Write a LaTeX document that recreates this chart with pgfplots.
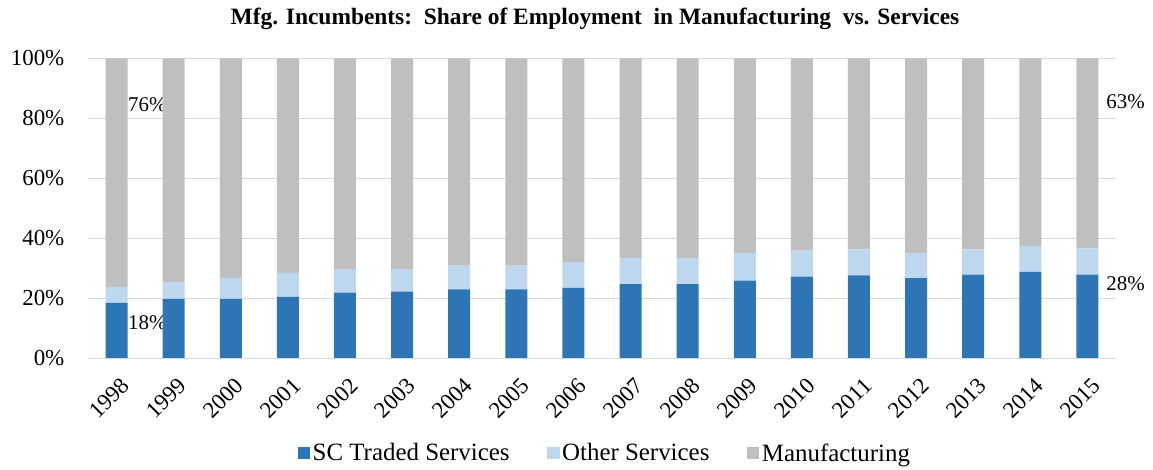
\documentclass[border=0pt]{standalone}
\usepackage{pgfplots}
\pgfplotsset{compat=1.18}
\usepackage{fontspec}
\setmainfont{Liberation Serif}
\definecolor{cblue}{HTML}{2E75B6}
\definecolor{clight}{HTML}{BDD7EE}
\definecolor{cgrey}{HTML}{BFBFBF}
\definecolor{cgrid}{HTML}{D9D9D9}
\begin{document}
\begin{tikzpicture}
\useasboundingbox (0bp,0bp) rectangle (1153bp,470bp);
\node[font=\fontsize{23.5}{26}\selectfont\bfseries] at (595bp,451bp) {Mfg. Incumbents:\ \ Share of Employment\ \ in Manufacturing\ \ vs. Services};
\begin{axis}[
  at={(88bp,111.7bp)}, anchor=south west,
  width=1028bp, height=300bp, scale only axis,
  ybar stacked, bar width=22bp,
  xmin=-0.5, xmax=17.5, ymin=0, ymax=100,
  xtick={0,...,17},
  xticklabels={1998,1999,2000,2001,2002,2003,2004,2005,2006,2007,2008,2009,2010,2011,2012,2013,2014,2015},
  ytick={0,20,40,60,80,100},
  yticklabel={\pgfmathprintnumber{\tick}\%},
  /pgf/number format/assume math mode=true,
  ymajorgrids, grid style={cgrid, line width=0.8pt},
  axis line style={draw=none},
  major tick length=0pt,
  tick label style={font=\fontsize{23}{26}\selectfont},
  yticklabel style={anchor=east, inner sep=0pt, xshift=-23.5bp},
  xticklabel style={xshift=3.5bp, yshift=-18bp, rotate=45, anchor=north east, inner sep=0pt},
  legend style={at={(0.503,-0.316)}, anchor=center, draw=none, legend columns=3,
    font=\fontsize{25}{28}\selectfont,
    nodes={inner xsep=2.5bp},
    /tikz/every even column/.append style={column sep=35bp}},
  legend image code/.code={\fill[#1] (0bp,-6bp) rectangle (12.5bp,6.5bp);},
  clip=false,
]
\draw[cgrid, line width=0.8pt] (rel axis cs:0,0) -- (rel axis cs:1,0);
\addplot[fill=cblue, draw=none] coordinates {(0,18.5)(1,19.8)(2,19.8)(3,20.5)(4,21.9)(5,22.2)(6,23.0)(7,23.0)(8,23.5)(9,24.7)(10,24.7)(11,25.9)(12,27.2)(13,27.6)(14,26.7)(15,27.9)(16,28.8)(17,27.9)};
\addplot[fill=clight, draw=none] coordinates {(0,5.3)(1,5.7)(2,7.0)(3,8.0)(4,7.8)(5,7.5)(6,7.9)(7,7.9)(8,8.4)(9,8.7)(10,8.7)(11,9.2)(12,8.7)(13,8.7)(14,8.4)(15,8.4)(16,8.7)(17,8.7)};
\addplot[fill=cgrey, draw=none] coordinates {(0,76.2)(1,74.5)(2,73.2)(3,71.5)(4,70.3)(5,70.3)(6,69.1)(7,69.1)(8,68.1)(9,66.6)(10,66.6)(11,64.9)(12,64.1)(13,63.7)(14,64.9)(15,63.7)(16,62.5)(17,63.4)};
\legend{SC Traded Services, Other Services, Manufacturing}
\node[anchor=west, inner sep=0pt, font=\fontsize{21}{24}\selectfont] at (axis cs:0.2,84.5) {76\%};
\node[anchor=west, inner sep=0pt, font=\fontsize{21}{24}\selectfont] at (axis cs:0.2,12) {18\%};
\node[anchor=west, inner sep=0pt, font=\fontsize{21}{24}\selectfont] at (axis cs:17.33,85.5) {63\%};
\node[anchor=west, inner sep=0pt, font=\fontsize{21}{24}\selectfont] at (axis cs:17.33,25) {28\%};
\end{axis}
\end{tikzpicture}
\end{document}
